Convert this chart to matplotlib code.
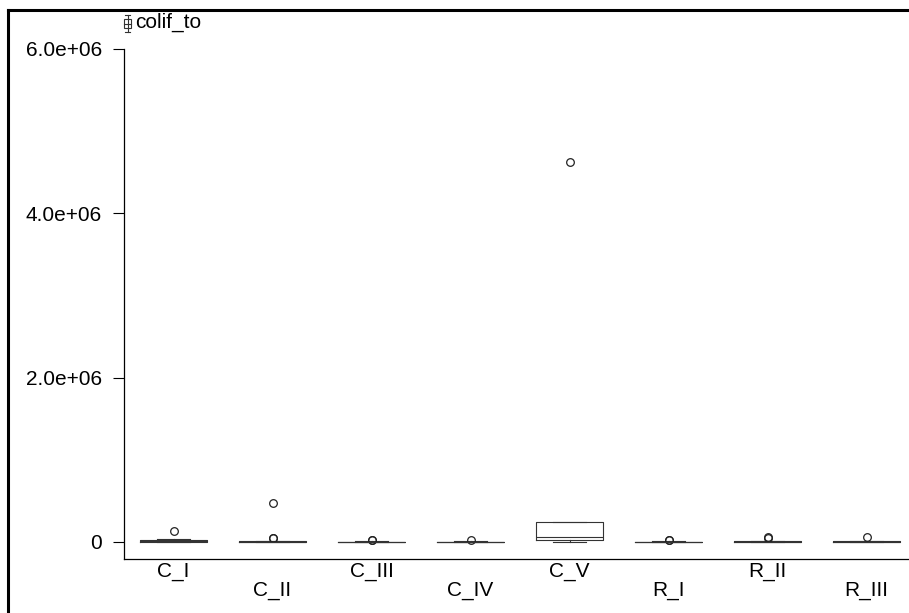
import matplotlib
matplotlib.use("Agg")
import matplotlib.pyplot as plt
from matplotlib.lines import Line2D
from matplotlib.patches import Rectangle

plt.rcParams['font.family'] = ['Liberation Sans', 'DejaVu Sans']

# groups and box statistics
groups = ["C_I", "C_II", "C_III", "C_IV", "C_V", "R_I", "R_II", "R_III"]
whislo = [0, 0, 0, 0, 0, 0, 0, 0]
q1 = [2e3, 1e3, 500, 300, 2.4e4, 500, 1e3, 500]
med = [1e4, 3e3, 1500, 1000, 6.1e4, 2000, 3e3, 2000]
q3 = [2.8e4, 8e3, 4000, 3000, 2.4e5, 5000, 8e3, 6000]
whishi = [4e4, 1.5e4, 8000, 6000, 2.4e5, 1e4, 1.5e4, 1.2e4]
fliers = [[1.35e5], [4.78e5, 5.2e4, 4.5e4], [3.0e4, 2.5e4], [2.8e4],
          [4.63e6], [2.8e4, 2.2e4], [6.5e4, 4.5e4], [5.7e4]]
yticks = [0, 2e6, 4e6, 6e6]
ytick_labels = ["0", "2.0e+06", "4.0e+06", "6.0e+06"]
legend_label = "colif_to"

W, H = 909, 613
fig = plt.figure(figsize=(W / 100, H / 100), dpi=100)
ax = fig.add_axes([124 / W, 54 / H, 792 / W, 510 / H])

stats = []
for i, g in enumerate(groups):
    stats.append(dict(label=g, whislo=whislo[i], q1=q1[i], med=med[i],
                      q3=q3[i], whishi=whishi[i], fliers=fliers[i]))

lc = '#333333'
pos = list(range(1, len(groups) + 1))
ax.bxp(stats, positions=pos, widths=0.68, capwidths=0.34, showfliers=True,
       boxprops=dict(color=lc, linewidth=0.8),
       medianprops=dict(color=lc, linewidth=0.8),
       whiskerprops=dict(color=lc, linewidth=0.8),
       capprops=dict(color=lc, linewidth=0.8),
       flierprops=dict(marker='o', markersize=5.5, markerfacecolor='none',
                       markeredgecolor='#222222', markeredgewidth=0.9))

ax.set_xlim(0.5, 8.5)
ax.set_ylim(-2.07e5, 6e6)
ax.set_yticks(yticks)
ax.set_yticklabels(ytick_labels)
ax.tick_params(axis='y', length=8, width=0.8, pad=8, labelsize=15)
ax.set_xticks(pos)
ax.set_xticklabels(groups)
ax.tick_params(axis='x', length=0, pad=2, labelsize=15)
for i, t in enumerate(ax.xaxis.get_major_ticks()):
    if i % 2 == 1:
        t.set_pad(16)

for s in ['top', 'right']:
    ax.spines[s].set_visible(False)
for s in ['left', 'bottom']:
    ax.spines[s].set_linewidth(0.9)

# outer frame (top and left edges)
fx = lambda px: px / W
fy = lambda py: 1 - py / H
fig.add_artist(Line2D([fx(8), 1], [fy(10), fy(10)], color='black', lw=2.2))
fig.add_artist(Line2D([fx(8), fx(8)], [fy(10), 0], color='black', lw=2.2))

# legend glyph and label
ic = '#333333'
fig.add_artist(Line2D([fx(127.5), fx(127.5)], [fy(15), fy(32)], color=ic, lw=0.8))
fig.add_artist(Line2D([fx(125), fx(130)], [fy(15), fy(15)], color=ic, lw=0.8))
fig.add_artist(Line2D([fx(125), fx(130)], [fy(32), fy(32)], color=ic, lw=0.8))
fig.add_artist(Rectangle((fx(124), fy(28)), fx(7), 9 / H, facecolor='white',
                         edgecolor=ic, lw=0.8, transform=fig.transFigure))
fig.add_artist(Line2D([fx(124), fx(131)], [fy(23.5), fy(23.5)], color=ic, lw=0.8))
fig.text(fx(135), fy(22), legend_label, fontsize=15, va='center', ha='left')

fig.savefig("out.png", dpi=100)
